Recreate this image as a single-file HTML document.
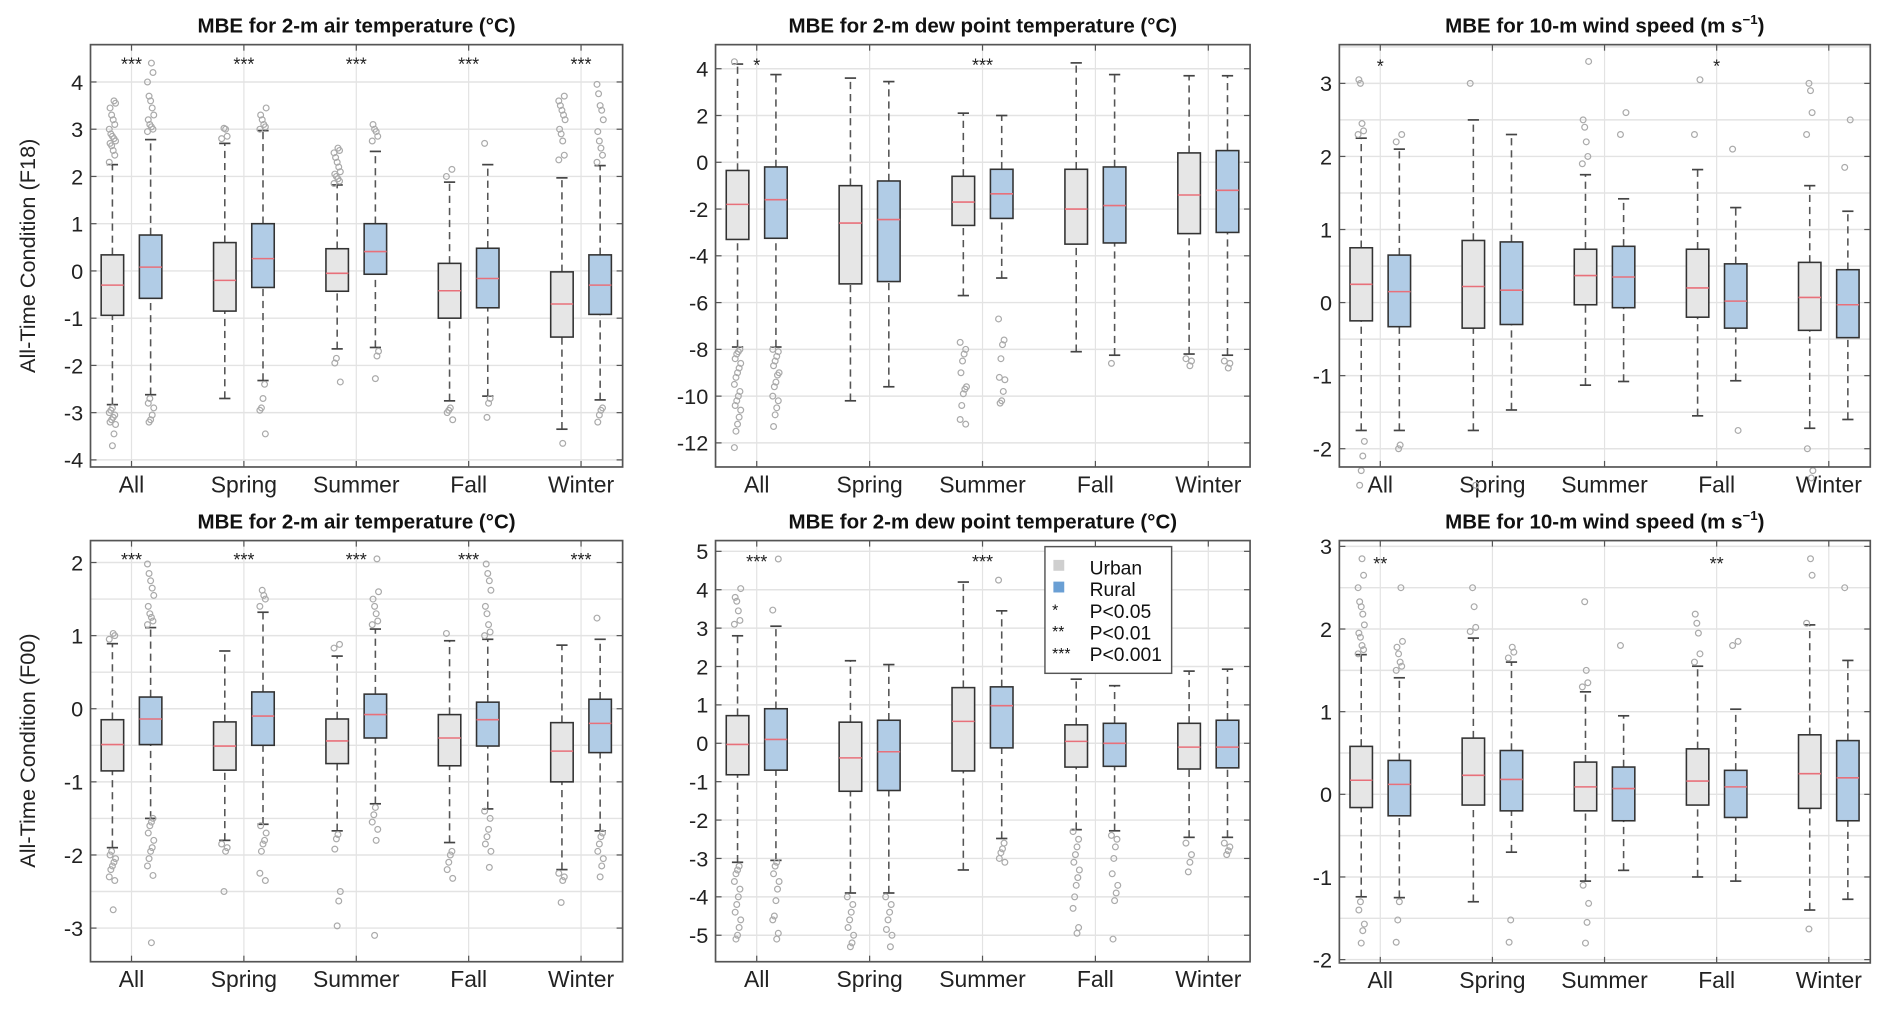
<!DOCTYPE html>
<html><head><meta charset="utf-8"><style>
html,body{margin:0;padding:0;background:#fff;}
svg{display:block;font-family:"Liberation Sans",Arial,sans-serif;}
</style></head><body>
<svg id="fig" width="1892" height="1013" viewBox="0 0 1568 839.5" preserveAspectRatio="none" xmlns="http://www.w3.org/2000/svg"></svg>
<script>
const categories = ["All","Spring","Summer","Fall","Winter"];
// box stats per category: [low whisker, q1, median, q3, high whisker]
const t18Urban = [[-2.83,-0.94,-0.30,0.34,2.25],[-2.7,-0.85,-0.2,0.6,2.7],[-1.65,-0.43,-0.05,0.47,1.82],[-2.75,-1.0,-0.42,0.16,1.88],[-3.35,-1.4,-0.7,-0.02,1.97]];
const t18Rural = [[-2.62,-0.58,0.08,0.76,2.78],[-2.32,-0.35,0.26,1.0,2.97],[-1.62,-0.07,0.41,1.0,2.53],[-2.65,-0.78,-0.16,0.48,2.25],[-2.73,-0.92,-0.3,0.34,2.23]];
const t18UrbanOut = [[2.3,2.45,2.55,2.65,2.7,2.75,2.8,2.85,2.9,3.0,3.1,3.2,3.3,3.45,3.55,3.6,-2.9,-2.95,-3.0,-3.05,-3.1,-3.15,-3.2,-3.25,-3.45,-3.7],[2.8,2.85,3.0,3.02],[1.85,1.9,1.95,2.0,2.05,2.1,2.2,2.3,2.4,2.5,2.55,2.6,-1.85,-1.95,-2.35],[2.0,2.15,-2.9,-2.95,-3.0,-3.15],[2.35,2.45,2.75,2.9,3.0,3.2,3.3,3.4,3.5,3.6,3.7,-3.65]];
const t18RuralOut = [[2.95,3.0,3.05,3.1,3.2,3.3,3.45,3.6,3.7,4.0,4.2,4.4,-2.7,-2.8,-2.9,-3.05,-3.15,-3.2],[3.0,3.05,3.1,3.2,3.3,3.45,-2.4,-2.7,-2.9,-2.95,-3.45],[2.75,2.85,2.95,3.0,3.1,-1.7,-1.8,-2.28],[2.7,-2.7,-2.8,-3.1],[2.3,2.45,2.6,2.75,2.95,3.2,3.4,3.5,3.75,3.95,-2.9,-2.95,-3.05,-3.2]];
const td18Urban = [[-7.9,-3.3,-1.8,-0.35,4.2],[-10.2,-5.2,-2.6,-1.0,3.6],[-5.7,-2.7,-1.7,-0.6,2.1],[-8.1,-3.5,-2.0,-0.3,4.25],[-8.2,-3.05,-1.4,0.4,3.7]];
const td18Rural = [[-7.9,-3.25,-1.6,-0.2,3.75],[-9.6,-5.1,-2.45,-0.8,3.45],[-4.95,-2.4,-1.35,-0.3,2.0],[-8.25,-3.45,-1.85,-0.2,3.75],[-8.25,-3.0,-1.2,0.5,3.7]];
const td18UrbanOut = [[4.3,-8.0,-8.1,-8.2,-8.4,-8.6,-8.8,-9.0,-9.2,-9.5,-9.8,-10.0,-10.2,-10.4,-10.6,-10.9,-11.2,-11.5,-12.2],[],[-7.7,-8.0,-8.2,-8.5,-9.0,-9.6,-9.7,-9.9,-10.4,-11.0,-11.2],[],[-8.4,-8.5,-8.7]];
const td18RuralOut = [[-8.0,-8.1,-8.3,-8.5,-8.7,-9.0,-9.1,-9.4,-9.6,-10.0,-10.2,-10.5,-10.8,-11.3],[],[-6.7,-7.6,-7.8,-8.4,-9.2,-9.3,-9.8,-10.2,-10.3],[-8.6],[-8.5,-8.6,-8.8]];
const w18Urban = [[-1.75,-0.25,0.25,0.75,2.25],[-1.75,-0.35,0.22,0.85,2.5],[-1.13,-0.03,0.37,0.73,1.75],[-1.55,-0.2,0.2,0.73,1.82],[-1.72,-0.38,0.07,0.55,1.6]];
const w18Rural = [[-1.75,-0.33,0.15,0.65,2.1],[-1.47,-0.3,0.17,0.83,2.3],[-1.08,-0.07,0.35,0.77,1.42],[-1.07,-0.35,0.02,0.53,1.3],[-1.6,-0.48,-0.03,0.45,1.25]];
const w18UrbanOut = [[2.3,2.35,2.45,3.0,3.05,-1.9,-2.1,-2.3,-2.5],[3.0,-2.5],[1.9,2.0,2.2,2.4,2.5,3.3],[2.3,3.05],[2.3,2.6,2.9,3.0,-2.0,-2.3,-2.4]];
const w18RuralOut = [[2.2,2.3,-1.95,-2.0],[],[2.3,2.6],[2.1,-1.75],[1.85,2.5]];
const t00Urban = [[-1.9,-0.85,-0.49,-0.15,0.89],[-1.8,-0.84,-0.51,-0.18,0.79],[-1.67,-0.75,-0.44,-0.14,0.72],[-1.83,-0.78,-0.4,-0.08,0.93],[-2.2,-1.0,-0.58,-0.19,0.87]];
const t00Rural = [[-1.5,-0.49,-0.14,0.16,1.11],[-1.58,-0.5,-0.1,0.23,1.32],[-1.3,-0.4,-0.08,0.2,1.09],[-1.37,-0.51,-0.15,0.09,0.95],[-1.67,-0.6,-0.2,0.13,0.95]];
const t00UrbanOut = [[0.95,1.0,1.03,-1.95,-2.0,-2.05,-2.1,-2.15,-2.2,-2.3,-2.35,-2.75],[-1.85,-1.9,-1.95,-2.5],[0.83,0.88,-1.72,-1.78,-1.92,-2.5,-2.63,-2.97],[1.03,-1.95,-2.0,-2.1,-2.2,-2.32],[-2.25,-2.3,-2.35,-2.65]];
const t00RuralOut = [[1.15,1.2,1.25,1.3,1.4,1.55,1.65,1.75,1.85,1.98,-1.5,-1.55,-1.6,-1.7,-1.8,-1.9,-1.95,-2.05,-2.15,-2.28,-3.2],[1.4,1.5,1.55,1.62,-1.6,-1.7,-1.8,-1.85,-1.95,-2.25,-2.35],[1.15,1.2,1.3,1.4,1.5,1.6,2.05,-1.35,-1.45,-1.55,-1.65,-1.8,-3.1],[1.0,1.05,1.15,1.3,1.4,1.62,1.75,1.85,1.98,-1.4,-1.5,-1.65,-1.75,-1.85,-1.95,-2.17],[1.24,-1.7,-1.75,-1.85,-1.95,-2.05,-2.15,-2.3]];
const td00Urban = [[-3.1,-0.82,-0.03,0.72,2.8],[-3.9,-1.25,-0.38,0.55,2.15],[-3.3,-0.72,0.57,1.45,4.2],[-2.25,-0.62,0.05,0.48,1.67],[-2.45,-0.67,-0.1,0.52,1.88]];
const td00Rural = [[-3.05,-0.7,0.1,0.9,3.05],[-3.9,-1.23,-0.22,0.6,2.05],[-2.48,-0.12,0.98,1.47,3.45],[-2.28,-0.6,0.0,0.52,1.5],[-2.45,-0.64,-0.1,0.6,1.93]];
const td00UrbanOut = [[3.1,3.2,3.45,3.7,3.8,4.03,-3.2,-3.3,-3.4,-3.6,-3.8,-4.0,-4.2,-4.4,-4.6,-4.8,-5.0,-5.1],[-4.0,-4.2,-4.4,-4.6,-4.8,-5.0,-5.2,-5.3],[],[-2.3,-2.5,-2.7,-2.9,-3.1,-3.3,-3.5,-3.7,-4.0,-4.3,-4.8,-4.95],[-2.6,-2.9,-3.1,-3.35]];
const td00RuralOut = [[3.47,4.8,-3.1,-3.2,-3.4,-3.6,-3.8,-4.1,-4.5,-4.6,-4.95,-5.1],[-4.0,-4.2,-4.4,-4.6,-4.85,-5.0,-5.3],[4.25,-2.6,-2.75,-2.85,-3.0,-3.1],[-2.4,-2.5,-2.7,-3.0,-3.4,-3.7,-3.9,-4.1,-5.1],[-2.6,-2.7,-2.8,-2.9]];
const w00Urban = [[-1.24,-0.16,0.17,0.58,1.69],[-1.3,-0.13,0.23,0.68,1.89],[-1.05,-0.2,0.09,0.39,1.24],[-1.0,-0.13,0.16,0.55,1.55],[-1.4,-0.17,0.25,0.72,2.05]];
const w00Rural = [[-1.25,-0.26,0.12,0.41,1.41],[-0.7,-0.2,0.18,0.53,1.6],[-0.92,-0.32,0.07,0.33,0.95],[-1.05,-0.28,0.09,0.29,1.03],[-1.27,-0.32,0.2,0.65,1.62]];
const w00UrbanOut = [[1.7,1.75,1.8,1.9,1.95,2.05,2.18,2.27,2.33,2.5,2.65,2.85,-1.3,-1.4,-1.57,-1.65,-1.8],[1.97,2.02,2.27,2.5],[1.3,1.35,1.5,2.33,-1.1,-1.32,-1.55,-1.8],[1.6,1.7,1.95,2.07,2.18],[2.07,2.65,2.85,-1.63]];
const w00RuralOut = [[1.5,1.55,1.6,1.7,1.78,1.85,2.5,-1.3,-1.52,-1.79],[1.65,1.72,1.78,-1.52,-1.79],[1.8],[1.8,1.85],[2.5]];
const t18Stars = ["***","***","***","***","***"];
const td18Stars = ["*","","***","",""];
const w18Stars = ["*","","","*",""];
const t00Stars = ["***","***","***","***","***"];
const td00Stars = ["***","","***","",""];
const w00Stars = ["**","","","**",""];
const yTicksT18 = [-4,-3,-2,-1,0,1,2,3,4];
const yTicksTd18 = [-12,-10,-8,-6,-4,-2,0,2,4];
const yTicksW18 = [-2,-1,0,1,2,3];
const yTicksT00 = [-3,-2,-1,0,1,2];
const yTicksTd00 = [-5,-4,-3,-2,-1,0,1,2,3,4,5];
const yTicksW00 = [-2,-1,0,1,2,3];

const NS="http://www.w3.org/2000/svg";
const svg=document.getElementById('fig');
function mk(tag,attrs,parent){const e=document.createElementNS(NS,tag);for(const k in attrs)e.setAttribute(k,attrs[k]);(parent||svg).appendChild(e);return e;}

const panels=[
 {id:'t18',x0:75,x1:516,y0:37,y1:387,ymin:-4.15,ymax:4.79,ticks:yTicksT18,grid:1,title:'MBE for 2-m air temperature (°C)',u:t18Urban,r:t18Rural,uo:t18UrbanOut,ro:t18RuralOut,stars:t18Stars,starY:4.4,wind:false},
 {id:'td18',x0:593,x1:1036,y0:37,y1:387,ymin:-13.03,ymax:5.03,ticks:yTicksTd18,grid:2,title:'MBE for 2-m dew point temperature (°C)',u:td18Urban,r:td18Rural,uo:td18UrbanOut,ro:td18RuralOut,stars:td18Stars,starY:4.2,wind:false},
 {id:'w18',x0:1110,x1:1550,y0:37,y1:387,ymin:-2.25,ymax:3.53,ticks:yTicksW18,grid:0.5,title:'MBE for 10-m wind speed (m s',u:w18Urban,r:w18Rural,uo:w18UrbanOut,ro:w18RuralOut,stars:w18Stars,starY:3.25,wind:true},
 {id:'t00',x0:75,x1:516,y0:448,y1:797,ymin:-3.46,ymax:2.3,ticks:yTicksT00,grid:0.5,title:'MBE for 2-m air temperature (°C)',u:t00Urban,r:t00Rural,uo:t00UrbanOut,ro:t00RuralOut,stars:t00Stars,starY:2.05,wind:false},
 {id:'td00',x0:593,x1:1036,y0:448,y1:797,ymin:-5.69,ymax:5.28,ticks:yTicksTd00,grid:1,title:'MBE for 2-m dew point temperature (°C)',u:td00Urban,r:td00Rural,uo:td00UrbanOut,ro:td00RuralOut,stars:td00Stars,starY:4.75,wind:false},
 {id:'w00',x0:1110,x1:1550,y0:448,y1:798,ymin:-2.04,ymax:3.07,ticks:yTicksW00,grid:0.5,title:'MBE for 10-m wind speed (m s',u:w00Urban,r:w00Rural,uo:w00UrbanOut,ro:w00RuralOut,stars:w00Stars,starY:2.8,wind:true}
];
const XMIN=0.635,XMAX=5.37;
panels.forEach(p=>{
 const g=mk('g',{});
 
 
 const xs=v=>p.x0+(v-XMIN)/(XMAX-XMIN)*(p.x1-p.x0);
 const ys=v=>p.y1-(v-p.ymin)/(p.ymax-p.ymin)*(p.y1-p.y0);
 const gs=Math.ceil(p.ymin/p.grid)*p.grid;
 for(let v=gs;v<=p.ymax+1e-9;v+=p.grid){const l=mk('line',{x1:p.x0,x2:p.x1,y1:ys(v),y2:ys(v),stroke:'#e3e3e3','stroke-width':1.2},g);}
 categories.forEach((c,i)=>{const l=mk('line',{x1:xs(i+1),x2:xs(i+1),y1:p.y0,y2:p.y1,stroke:'#e3e3e3','stroke-width':1},g);});
 p.ticks.forEach(v=>{
  mk('line',{x1:p.x0,x2:p.x0+5,y1:ys(v),y2:ys(v),stroke:'#555'},g);
  mk('line',{x1:p.x1,x2:p.x1-5,y1:ys(v),y2:ys(v),stroke:'#555'},g);
  const t=mk('text',{x:p.x0-6,y:ys(v)+6.5,'text-anchor':'end','font-size':18,fill:'#222'},g);t.textContent=v;
  
 });
 categories.forEach((c,i)=>{
  mk('line',{x1:xs(i+1),x2:xs(i+1),y1:p.y1,y2:p.y1-5,stroke:'#555'},g);
  mk('line',{x1:xs(i+1),x2:xs(i+1),y1:p.y0,y2:p.y0+5,stroke:'#555'},g);
  const t=mk('text',{x:xs(i+1),y:p.y1+21,'text-anchor':'middle','font-size':19,fill:'#222'},g);t.textContent=c;
  
 });
 [[p.u,p.uo,-0.17,'#e6e6e6','urban'],[p.r,p.ro,0.17,'#b1cce6','rural']].forEach(([st,out,off,fill,nm])=>{
  st.forEach((s,i)=>{
   const cx=i+1+off, bw=0.1;
   const bg=mk('g',{},g);
   mk('line',{x1:xs(cx),x2:xs(cx),y1:ys(s[0]),y2:ys(s[1]),stroke:'#555','stroke-width':1.3,'stroke-dasharray':'6,4'},bg);
   mk('line',{x1:xs(cx),x2:xs(cx),y1:ys(s[3]),y2:ys(s[4]),stroke:'#555','stroke-width':1.3,'stroke-dasharray':'6,4'},bg);
   mk('line',{x1:xs(cx-0.05),x2:xs(cx+0.05),y1:ys(s[0]),y2:ys(s[0]),stroke:'#444','stroke-width':1.4},bg);
   mk('line',{x1:xs(cx-0.05),x2:xs(cx+0.05),y1:ys(s[4]),y2:ys(s[4]),stroke:'#444','stroke-width':1.4},bg);
   mk('rect',{x:xs(cx-bw),y:ys(s[3]),width:xs(cx+bw)-xs(cx-bw),height:ys(s[1])-ys(s[3]),fill:fill,stroke:'#333','stroke-width':1.3},bg);
   mk('line',{x1:xs(cx-bw),x2:xs(cx+bw),y1:ys(s[2]),y2:ys(s[2]),stroke:'#e8707a','stroke-width':1.3},bg);
   out[i].forEach((v,k)=>{
    const dx=(((k*7)%9)-4)*0.007;
    const o=mk('circle',{cx:xs(cx+dx),cy:ys(v),r:2.4,fill:'none',stroke:'#aaa','stroke-width':1},bg);
    
   });
  });
 });
 p.stars.forEach((s,i)=>{if(!s)return;const t=mk('text',{x:xs(i+1),y:ys(p.starY)+6,'text-anchor':'middle','font-size':15,fill:'#222'},g);t.textContent=s;});
 const fr=mk('rect',{x:p.x0,y:p.y0,width:p.x1-p.x0,height:p.y1-p.y0,fill:'none',stroke:'#555','stroke-width':1.4},g);
 
 const tt=mk('text',{x:(p.x0+p.x1)/2,y:p.y0-10,'text-anchor':'middle','font-size':17,'font-weight':'bold',fill:'#111'},g);
 
 tt.textContent=p.title;
 if(p.wind){const s1=mk('tspan',{dy:-7,'font-size':11},tt);s1.textContent='−1';const s2=mk('tspan',{dy:7},tt);s2.textContent=')';}
});
[['All-Time Condition (F18)',212,'y-axis-title-f18'],['All-Time Condition (F00)',622,'y-axis-title-f00']].forEach(([s,y,n])=>{
 const t=mk('text',{x:0,y:0,transform:'translate(29,'+y+') rotate(-90)','text-anchor':'middle','font-size':18,fill:'#222'});
 t.textContent=s;
});
const lg=mk('g',{});
mk('rect',{x:866,y:453,width:105,height:105,fill:'#fff',stroke:'#555','stroke-width':1.2},lg);
const items=[['sq','#cfcfcf','Urban'],['sq','#6a9fd4','Rural'],['*',null,'P<0.05'],['**',null,'P<0.01'],['***',null,'P<0.001']];
items.forEach((it,i)=>{
 const y=470+i*18;
 const e=mk('g',{},lg);
 if(it[0]==='sq')mk('rect',{x:873,y:y-6,width:9,height:9,fill:it[1]},e);
 else{const s=mk('text',{x:872,y:y+4,'font-size':13,fill:'#111'},e);s.textContent=it[0];}
 const t=mk('text',{x:903,y:y+6,'font-size':16,fill:'#111'},e);t.textContent=it[2];
});
</script>
</body></html>
